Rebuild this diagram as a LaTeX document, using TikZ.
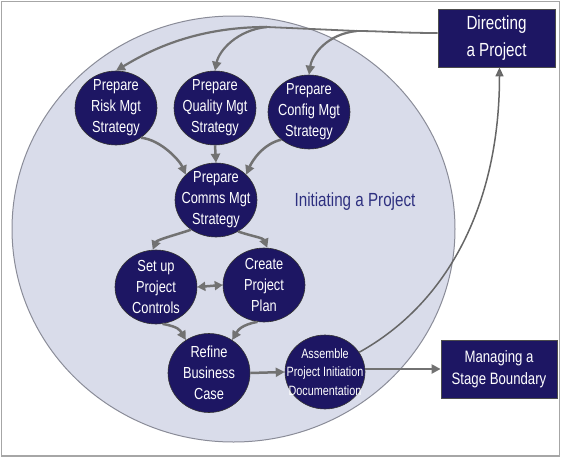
\documentclass[tikz,border=0pt]{standalone}
\usepackage{fontspec}
\setmainfont{Liberation Sans}[FakeStretch=0.8]
\usetikzlibrary{shapes.geometric,arrows.meta}
\definecolor{navy}{HTML}{1D1663}
\definecolor{cfill}{HTML}{D9DCEA}
\definecolor{cline}{HTML}{8A8C98}
\definecolor{agray}{HTML}{727272}
\definecolor{ttl}{HTML}{2E3080}
\tikzset{
  proc/.style={ellipse,draw=black!80,line width=0.6pt,fill=navy,text=white,
    minimum width=82pt,minimum height=74pt,inner sep=-16pt,align=center,
    font=\fontsize{16}{21}\selectfont},
  smallproc/.style={proc,font=\fontsize{13.5}{18.5}\selectfont},
  procbox/.style={rectangle,draw=black!70,line width=0.8pt,fill=navy,text=white,
    minimum width=117pt,minimum height=58pt,inner sep=0pt,align=center},
  arr/.style={draw=agray,line width=2.5pt,-{Triangle[length=9pt,width=9pt]}},
  darr/.style={draw=agray,line width=2.5pt,{Triangle[length=8pt,width=9pt]}-{Triangle[length=8pt,width=9pt]}},
  trunk/.style={draw=agray,line width=1.8pt},
  thinarr/.style={draw=black!60,line width=1.5pt,-{Triangle[length=9pt,width=8pt,fill=agray]}}
}
\begin{document}
\begin{tikzpicture}[x=1pt,y=-1pt]
\useasboundingbox (0,0) rectangle (562,458);
\draw[draw=black!35,line width=1.5pt] (1.5,1.5) rectangle (559.5,456);
\draw[draw=cline,fill=cfill,line width=1pt] (233.5,229) ellipse [x radius=221.5, y radius=213];
\node[font=\fontsize{19}{22}\selectfont,text=ttl] (init) at (355,202) {Initiating a Project};

\node[proc] (risk) at (116,108) {Prepare\\Risk Mgt\\Strategy};
\node[proc] (quality) at (215,108) {Prepare\\Quality Mgt\\Strategy};
\node[proc] (config) at (309,112) {Prepare\\Config Mgt\\Strategy};
\node[proc] (comms) at (216,200) {Prepare\\Comms Mgt\\Strategy};
\node[proc] (setup) at (156,287) {Set up\\Project\\Controls};
\node[proc] (create) at (264,285) {Create\\Project\\Plan};
\node[proc,minimum height=79pt] (refine) at (209,373) {Refine\\Business\\Case};
\node[smallproc,minimum width=80pt] (assemble) at (325,372) {Assemble\\Project Initiation\\Documentation};
\node[procbox,font=\fontsize{19}{26.5}\selectfont] (directing) at (496.5,38) {Directing\\a Project};
\node[procbox,minimum width=116pt,font=\fontsize{16.5}{22.5}\selectfont] (managing) at (499,369) {Managing a\\Stage Boundary};

\coordinate (j1) at (267,27);
\coordinate (j2) at (357,31);
\draw[trunk] ([yshift=5pt]directing.west) .. controls (400,33) and (380,31) .. (j2) -- (j1);
\draw[arr,line width=2.2pt] (j1) .. controls +(-75,0) and +(30,-18) .. (risk.north);
\draw[arr,line width=2.2pt] (j1) .. controls +(-30,3) and +(4,-20) .. (quality.north);
\draw[arr,line width=2.2pt] (j2) .. controls +(-30,3) and +(3,-20) .. (config.north);

\draw[arr] (risk.-50) .. controls +(20,2) and +(-6,-14) .. (comms.140);
\draw[arr] (quality.south) -- (comms.north);
\draw[arr] (config.-135) .. controls +(-18,4) and +(6,-14) .. (comms.40);
\draw[arr] (comms.-130) .. controls +(-15,5) and +(4,-10) .. (setup.95);
\draw[arr] (comms.-55) .. controls +(15,5) and +(-4,-10) .. (create.85);
\draw[darr] (setup.east) -- (create.west);
\draw[arr] (setup.-80) .. controls +(16,3) and +(-6,-10) .. (refine.125);
\draw[arr] (create.-100) .. controls +(-16,3) and +(6,-10) .. (refine.55);
\draw[arr] (refine.east) -- (assemble.west);
\draw[arr] (assemble.east |- managing.west) -- (managing.west);
\draw[thinarr] (assemble.30) .. controls +(90,-50) and +(0,135) .. ([xshift=3pt]directing.south);
\end{tikzpicture}
\end{document}
